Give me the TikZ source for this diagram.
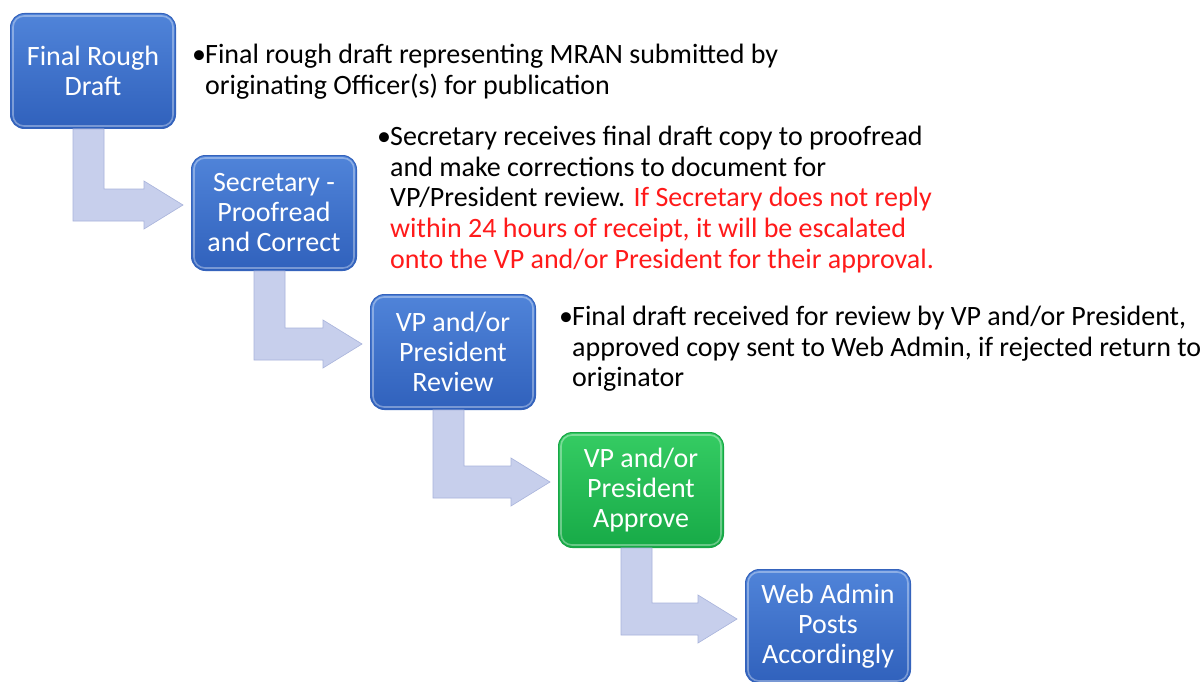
\documentclass[tikz,border=0pt]{standalone}
\usepackage{fontspec}
\setmainfont{Carlito}
\usetikzlibrary{calc}
\definecolor{boxtop}{HTML}{5084D9}
\definecolor{boxbot}{HTML}{3061BC}
\definecolor{boxedge}{HTML}{3563BC}
\definecolor{grntop}{HTML}{35CC63}
\definecolor{grnbot}{HTML}{17AA47}
\definecolor{grnedge}{HTML}{18A646}
\definecolor{arrowfill}{HTML}{C7CFEC}
\definecolor{arrowedge}{HTML}{A8B3DB}
\definecolor{txtred}{HTML}{FF1A1A}
\tikzset{
  stepbox/.style={rectangle, rounded corners=14pt, draw=boxedge, line width=1pt,
    top color=boxtop, bottom color=boxbot, text=white, align=center,
    minimum width=165pt, minimum height=115pt, anchor=north west,
    font=\fontsize{28}{30}\selectfont, inner sep=2pt},
  greenbox/.style={stepbox, draw=grnedge, top color=grntop, bottom color=grnbot},
  gloss/.style={draw=white, draw opacity=0.35, line width=1.6pt, rounded corners=11pt},
  desc/.style={anchor=north west, align=left, inner sep=0pt,
    font=\fontsize{28}{30.6}\selectfont, text=black},
  bentarrow/.style={fill=arrowfill, draw=arrowedge, line width=0.6pt, line join=miter}
}
\newcommand\bentarrow[2]{%
  \path[bentarrow] let \p1=(#1.south west), \p2=(#2.north west) in
   (\x1+63pt,\y1) -- (\x1+94pt,\y1) -- (\x1+94pt,\y2-34pt) -- (\x2-47pt,\y2-34pt)
   -- (\x2-47pt,\y2-26pt) -- (\x2-8pt,\y2-50pt) -- (\x2-47pt,\y2-74pt)
   -- (\x2-47pt,\y2-66pt) -- (\x1+63pt,\y2-66pt) -- cycle;}
\newcommand\glossy[1]{\path[gloss] ($(#1.north west)+(3,3)$) rectangle ($(#1.south east)+(-3,-3)$);}
\newcommand\bul{\makebox[13pt][l]{•}}
\newcommand\ind{\hspace*{13pt}}
\begin{document}
\begin{tikzpicture}[x=1pt,y=-1pt]
\useasboundingbox[fill=white] (0,0) rectangle (1204,682);
\node[stepbox] (b1) at (10,13) {Final Rough\\Draft};
\node[stepbox] (b2) at (191,155) {Secretary -\\Proofread\\and Correct};
\node[stepbox] (b3) at (370,294) {VP and/or\\President\\Review};
\node[greenbox] (b4) at (558,432) {VP and/or\\President\\Approve};
\node[stepbox, minimum height=114pt] (b5) at (745,569) {Web Admin\\Posts\\Accordingly};
\glossy{b1}\glossy{b2}\glossy{b3}\glossy{b4}\glossy{b5}
\bentarrow{b1}{b2}
\bentarrow{b2}{b3}
\bentarrow{b3}{b4}
\bentarrow{b4}{b5}
\node[desc] (t1) at (192,44) {\bul Final rough draft representing MRAN submitted by\\
\ind originating Officer(s) for publication};
\node[desc] (t2) at (377,126) {\bul Secretary receives final draft copy to proofread\\
\ind and make corrections to document for\\
\ind VP/President review. \textcolor{txtred}{If Secretary does not reply}\\
\ind \textcolor{txtred}{within 24 hours of receipt, it will be escalated}\\
\ind \textcolor{txtred}{onto the VP and/or President for their approval.}};
\node[desc] (t3) at (559,306) {\bul Final draft received for review by VP and/or President,\\
\ind approved copy sent to Web Admin, if rejected return to\\
\ind originator};
\end{tikzpicture}
\end{document}
